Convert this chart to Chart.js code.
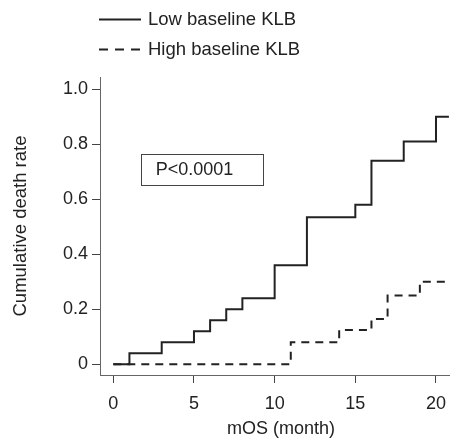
<!DOCTYPE html>
<html>
<head>
<meta charset="utf-8">
<script src="https://cdn.jsdelivr.net/npm/chart.js@4/dist/chart.umd.min.js"></script>
<style>
  html, body { margin: 0; padding: 0; background: #ffffff; }
  #wrap { width: 452px; height: 440px; }
</style>
</head>
<body>
<div id="wrap"><canvas id="c" width="452" height="440"></canvas></div>
<script>
// ---- data ----
const seriesLabels = ['Low baseline KLB', 'High baseline KLB'];
const lowTimes  = [0, 1, 3, 5, 6, 7, 8, 10, 12, 15, 16, 18, 20, 20.8];
const lowRates  = [0, 0.04, 0.08, 0.12, 0.16, 0.20, 0.24, 0.36, 0.535, 0.58, 0.74, 0.81, 0.90, 0.90];
const highTimes = [0, 11, 14, 16, 17, 19, 20.8];
const highRates = [0, 0.08, 0.125, 0.165, 0.25, 0.30, 0.30];
const xTicks = [0, 5, 10, 15, 20];
const yTicks = [0, 0.2, 0.4, 0.6, 0.8, 1.0];
const yTickLabels = ['0', '0.2', '0.4', '0.6', '0.8', '1.0'];
const xTitle = 'mOS (month)';
const yTitle = 'Cumulative death rate';
const pText = 'P<0.0001';

const FONT = '"Liberation Sans", Arial, Helvetica, sans-serif';
const INK = '#222222';

function pts(xs, ys) { return xs.map((x, i) => ({ x: x, y: ys[i] })); }

const legendPlugin = {
  id: 'stackedLegend',
  afterDraw(chart) {
    const ctx = chart.ctx;
    const rows = [19.5, 49.5];
    ctx.save();
    chart.data.datasets.forEach((ds, i) => {
      const y = rows[i];
      ctx.beginPath();
      ctx.lineWidth = 2;
      ctx.strokeStyle = ds.borderColor;
      ctx.setLineDash(ds.borderDash ? [9, 7] : []);
      ctx.moveTo(99, y);
      ctx.lineTo(141, y);
      ctx.stroke();
      ctx.setLineDash([]);
      ctx.fillStyle = INK;
      ctx.font = '18.5px ' + FONT;
      ctx.textAlign = 'left';
      ctx.textBaseline = 'middle';
      ctx.fillText(ds.label, 148, y + 0.5);
    });
    ctx.restore();
  }
};

const annotPlugin = {
  id: 'annot',
  afterDraw(chart) {
    const xs = chart.scales.x, ys = chart.scales.y;
    const box = { x0: 1.72, x1: 9.27, y0: 0.651, y1: 0.766, tx: 5.03, ty: 0.706 };
    const ctx = chart.ctx;
    const l = Math.round(xs.getPixelForValue(box.x0)) + 0.5;
    const r = Math.round(xs.getPixelForValue(box.x1)) + 0.5;
    const t = Math.round(ys.getPixelForValue(box.y1)) + 0.5;
    const b = Math.round(ys.getPixelForValue(box.y0)) + 0.5;
    ctx.save();
    ctx.lineWidth = 1;
    ctx.strokeStyle = '#444444';
    ctx.strokeRect(l, t, r - l, b - t);
    ctx.fillStyle = INK;
    ctx.font = '18px ' + FONT;
    ctx.textAlign = 'center';
    ctx.textBaseline = 'middle';
    ctx.fillText(pText, xs.getPixelForValue(box.tx), ys.getPixelForValue(box.ty));
    // x-axis title, centred slightly right of the axis centre as in the reference
    ctx.font = '18px ' + FONT;
    ctx.fillText(xTitle, xs.getPixelForValue(10.4), 429.5);
    ctx.restore();
  }
};

new Chart(document.getElementById('c'), {
  type: 'line',
  data: {
    datasets: [
      {
        label: seriesLabels[0],
        data: pts(lowTimes, lowRates),
        stepped: 'before',
        borderColor: INK,
        borderWidth: 2,
        pointRadius: 0,
        fill: false,
        clip: false
      },
      {
        label: seriesLabels[1],
        data: pts(highTimes, highRates),
        stepped: 'before',
        borderColor: INK,
        borderWidth: 2,
        borderDash: [8, 6],
        pointRadius: 0,
        fill: false,
        clip: false
      }
    ]
  },
  options: {
    responsive: false,
    animation: false,
    devicePixelRatio: 1,
    layout: { padding: { top: 77, right: 3, left: 0, bottom: 0 } },
    plugins: {
      legend: { display: false },
      tooltip: { enabled: false }
    },
    scales: {
      x: {
        type: 'linear',
        min: -0.824,
        max: 20.806,
        afterFit(s) { s.height = 65; s.paddingLeft = 0; s.paddingRight = 0; },
        afterBuildTicks(s) { s.ticks = xTicks.map(v => ({ value: v })); },
        grid: { display: true, drawOnChartArea: false, drawTicks: true, tickLength: 8, color: '#444444', lineWidth: 1 },
        border: { display: true, color: '#666666', width: 1 },
        ticks: { color: INK, font: { family: FONT, size: 18 }, padding: 10, maxRotation: 0, autoSkip: false },
        title: { display: false }
      },
      y: {
        type: 'linear',
        min: -0.039,
        max: 1.045,
        afterFit(s) { s.width = 100; },
        afterBuildTicks(s) { s.ticks = yTicks.map(v => ({ value: v })); },
        grid: { display: true, drawOnChartArea: false, drawTicks: true, tickLength: 8, color: '#444444', lineWidth: 1 },
        border: { display: true, color: '#666666', width: 1 },
        ticks: {
          color: INK, font: { family: FONT, size: 18 }, padding: 4, autoSkip: false,
          callback(v) { const i = yTicks.indexOf(v); return i >= 0 ? yTickLabels[i] : ''; }
        },
        title: { display: true, text: yTitle, color: INK, font: { family: FONT, size: 18.5 }, padding: { top: 10, bottom: 0 } }
      }
    }
  },
  plugins: [legendPlugin, annotPlugin]
});
</script>
</body>
</html>
